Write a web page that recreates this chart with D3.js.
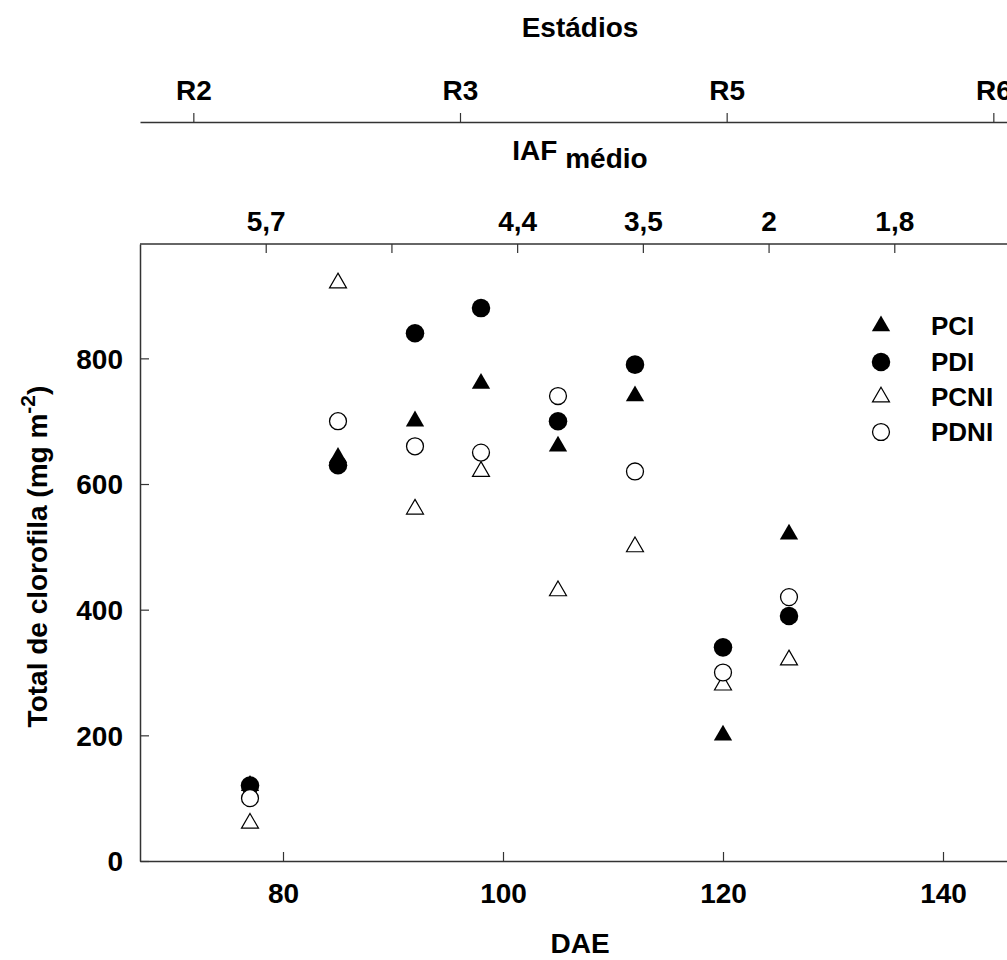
<!DOCTYPE html>
<html>
<head>
<meta charset="utf-8">
<script src="https://cdn.jsdelivr.net/npm/d3@7"></script>
<style>
  html, body { margin: 0; padding: 0; background: #fff; }
  svg text { font-family: "Liberation Sans", Arial, sans-serif; font-weight: bold; fill: #000; }
</style>
</head>
<body>
<svg id="chart" width="1007" height="960"></svg>
<script>
// ---- data ----
const dae = [77, 85, 92, 98, 105, 112, 120, 126];
const PCI  = [120, 642, 700, 760, 660, 740, 200, 520];
const PDI  = [120, 630, 840, 880, 700, 790, 340, 390];
const PCNI = [60, 920, 560, 620, 430, 500, 280, 320];
const PDNI = [100, 700, 660, 650, 740, 620, 300, 420];
const seriesNames = ["PCI", "PDI", "PCNI", "PDNI"];
const xTicks = [80, 100, 120, 140];
const yTicks = [0, 200, 400, 600, 800];
const iafTicks = [1, 2, 3, 4, 5, 6];
const iafLabels = ["5,7", "", "4,4", "3,5", "2", "1,8"];
const stageTicks = [2, 12, 22, 32];
const stageLabels = ["R2", "R3", "R5", "R6"];

// ---- layout ----
const FS = 28;
const svg = d3.select("#chart");
const L = 140, R = 1020, T = 244, B = 861;
const axisColor = "#333";
const x = d3.scaleLinear().domain([67, 147]).range([L, R]);
const y = d3.scaleLinear().domain([0, 982]).range([B, T]);
const iaf = d3.scaleLinear().domain([0, 7]).range([L, R]);
const stage = d3.scaleLinear().domain([0, 33]).range([L, R]);

function styleAxis(g) {
  g.select(".domain").attr("stroke", axisColor).attr("stroke-width", 1.5);
  g.selectAll(".tick line").attr("stroke", axisColor).attr("stroke-width", 1.2);
  g.selectAll(".tick text").attr("font-size", FS).attr("font-family", "Liberation Sans, Arial, sans-serif").attr("font-weight", "bold").attr("fill", "#000");
}

// bottom axis (DAE)
const gx = svg.append("g").attr("transform", `translate(0,${B})`)
  .call(d3.axisBottom(x).tickValues(xTicks).tickSizeInner(-9).tickSizeOuter(0).tickPadding(22));
styleAxis(gx);

// left axis
const gy = svg.append("g").attr("transform", `translate(${L},0)`)
  .call(d3.axisLeft(y).tickValues(yTicks).tickSizeInner(-9).tickSizeOuter(0).tickPadding(17));
styleAxis(gy);
gy.selectAll(".tick text").attr("dy", "0.35em");

// top IAF axis (frame top)
const gi = svg.append("g").attr("transform", `translate(0,${T})`)
  .call(d3.axisTop(iaf).tickValues(iafTicks).tickFormat((d, i) => iafLabels[i]).tickSizeInner(-9).tickSizeOuter(0).tickPadding(13));
styleAxis(gi);
gi.select(".domain").attr("d", `M${L},0H${R}`);

// right frame line
svg.append("line").attr("x1", R).attr("x2", R).attr("y1", T).attr("y2", B)
  .attr("stroke", axisColor).attr("stroke-width", 1.5);

// Estádios axis
const gs = svg.append("g").attr("transform", `translate(0,122)`)
  .call(d3.axisTop(stage).tickValues(stageTicks).tickFormat((d, i) => stageLabels[i]).tickSizeInner(9).tickSizeOuter(0).tickPadding(13));
styleAxis(gs);

// titles
const cx = (L + R) / 2;
svg.append("text").attr("x", cx).attr("y", 37).attr("text-anchor", "middle").attr("font-size", FS).text("Estádios");
const iafT = svg.append("text").attr("x", cx).attr("y", 160).attr("text-anchor", "middle").attr("font-size", FS);
iafT.append("tspan").text("IAF ");
iafT.append("tspan").attr("dy", 8).text("médio");
svg.append("text").attr("x", cx).attr("y", 953).attr("text-anchor", "middle").attr("font-size", FS).text("DAE");

const yt = svg.append("text").attr("transform", `translate(47,${(T + B) / 2 + 4}) rotate(-90)`)
  .attr("text-anchor", "middle").attr("font-size", FS);
yt.append("tspan").text("Total de clorofila (mg m");
yt.append("tspan").attr("dy", -12).attr("font-size", 21).text("-2");
yt.append("tspan").attr("dy", 12).text(")");

// ---- markers ----
const styles = {
  PCI:  { type: d3.symbolTriangle, size: 145, fill: "#000", stroke: "none", sw: 0 },
  PDI:  { type: d3.symbolCircle,   size: 270, fill: "#000", stroke: "none", sw: 0 },
  PCNI: { type: d3.symbolTriangle, size: 125, fill: "#fff", stroke: "#000", sw: 1.2 },
  PDNI: { type: d3.symbolCircle,   size: 225, fill: "#fff", stroke: "#000", sw: 1.3 }
};
const seriesData = { PCI, PDI, PCNI, PDNI };

seriesNames.forEach(name => {
  const st = styles[name];
  const pts = dae.map((d, i) => ({ d, v: seriesData[name][i] })).filter(p => p.v != null);
  svg.append("g").selectAll("path").data(pts).join("path")
    .attr("transform", p => `translate(${x(p.d)},${y(p.v)})`)
    .attr("d", d3.symbol().type(st.type).size(st.size))
    .attr("fill", st.fill).attr("stroke", st.stroke).attr("stroke-width", st.sw);
});

// legend
const legY = [326, 362, 397, 432];
const leg = svg.append("g");
seriesNames.forEach((name, i) => {
  const st = styles[name];
  leg.append("path").attr("transform", `translate(881,${legY[i]})`)
    .attr("d", d3.symbol().type(st.type).size(st.size))
    .attr("fill", st.fill).attr("stroke", st.stroke).attr("stroke-width", st.sw);
  leg.append("text").attr("x", 931).attr("y", legY[i]).attr("dy", "0.35em")
    .attr("font-size", FS - 2).text(name);
});
</script>
</body>
</html>
